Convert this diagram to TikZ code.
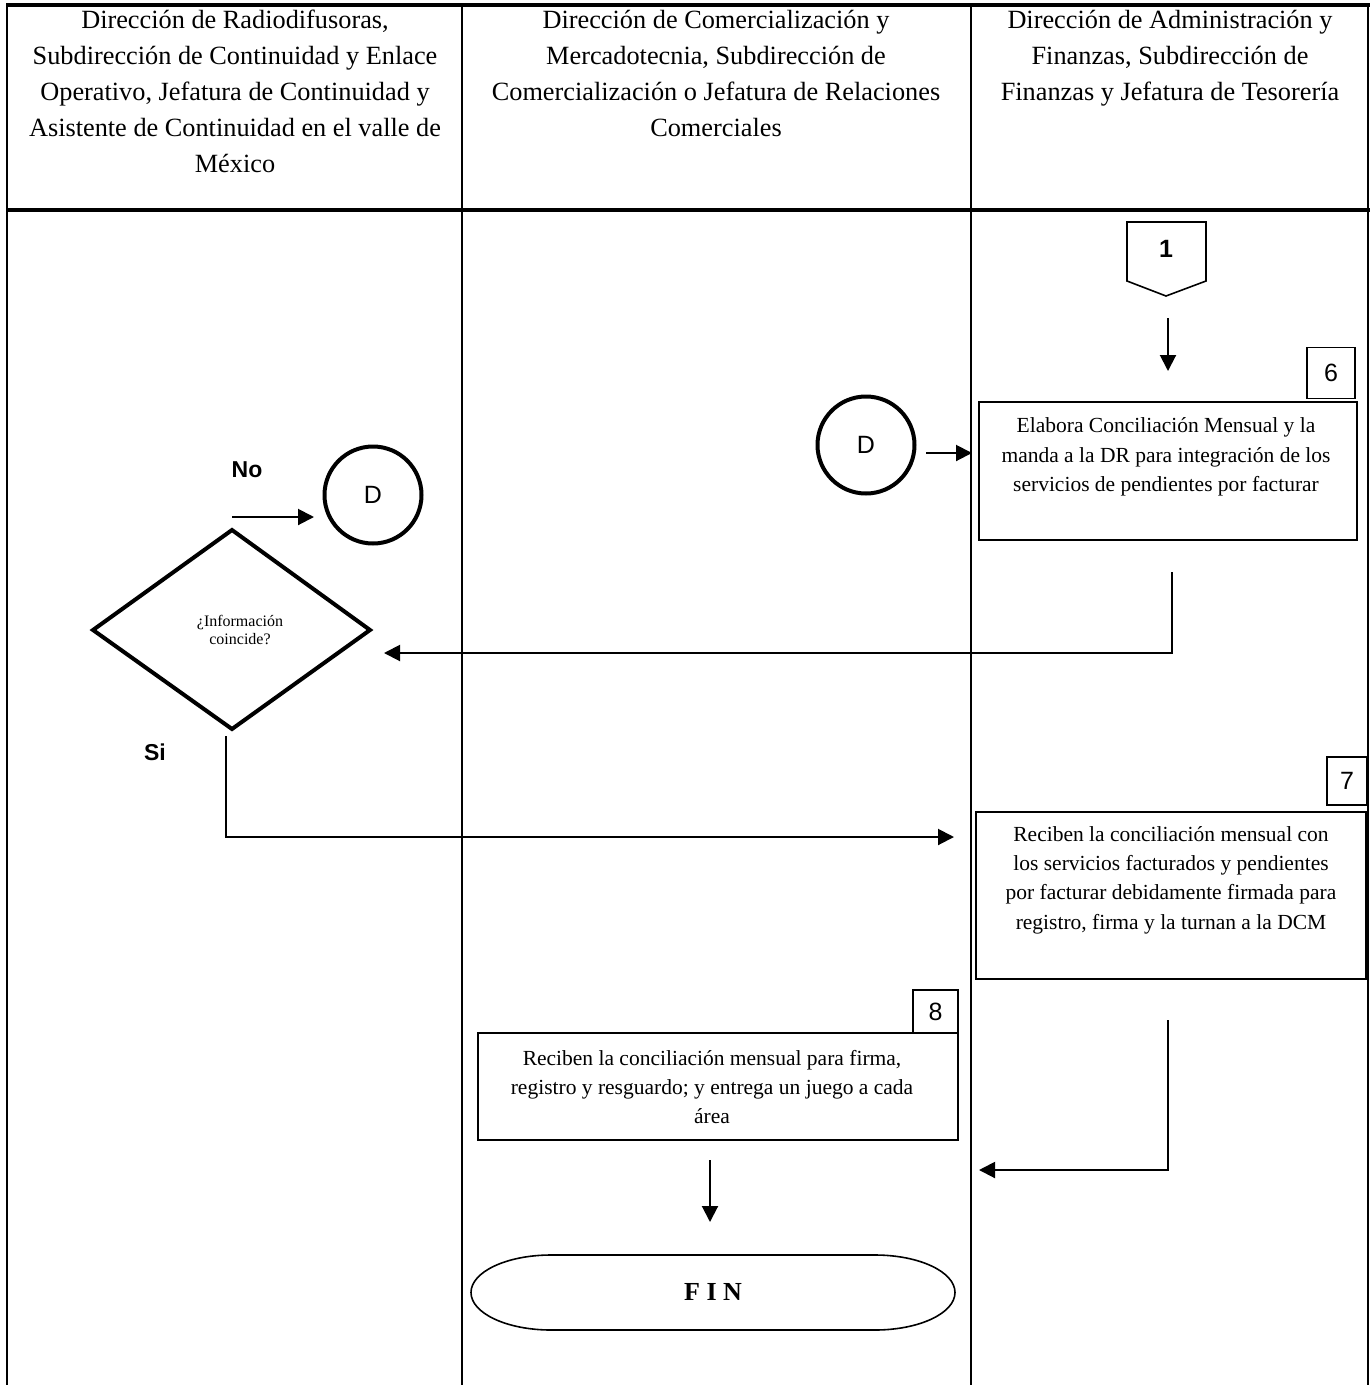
\documentclass[tikz,border=0pt]{standalone}
\usepackage{fontspec}
\setmainfont{Liberation Serif}
\newfontfamily\arialf{Liberation Sans}
\usetikzlibrary{arrows.meta,shapes.geometric}
\begin{document}
\begin{tikzpicture}[x=1pt,y=-1pt,
  hdr/.style={anchor=north,align=center,inner sep=0,font=\fontsize{26.3}{36}\selectfont},
  btext/.style={align=center,inner sep=0,font=\fontsize{21.5}{29.3}\selectfont},
  procbox/.style={draw,line width=2,inner sep=0},
  numbox/.style={draw,line width=1.6,inner sep=0,font=\arialf\fontsize{25}{28}\selectfont},
  conn/.style={draw,circle,line width=4,inner sep=0,minimum size=97,font=\arialf\fontsize{25}{28}\selectfont},
  lbl/.style={inner sep=0,font=\arialf\bfseries\fontsize{23}{26}\selectfont},
  arr/.style={line width=2,-{Triangle[length=16,width=16]}},
  lane/.style={line width=2.5},
  thick lane/.style={line width=4}]
\useasboundingbox (0,0) rectangle (1372,1385);
% lanes
\draw[thick lane] (6,5) -- (1370,5);
\draw[thick lane] (6,210) -- (1370,210);
\draw[lane] (7,4) -- (7,1385);
\draw[lane] (1368,4) -- (1368,1385);
\draw[lane] (462,4) -- (462,1385);
\draw[lane] (971,4) -- (971,1385);
% headers
\node[hdr] (h1) at (235,10) {Dirección de Radiodifusoras,\\Subdirección de Continuidad y Enlace\\Operativo, Jefatura de Continuidad y\\Asistente de Continuidad en el valle de\\México};
\node[hdr] (h2) at (716,10) {Dirección de Comercialización y\\Mercadotecnia, Subdirección de\\Comercialización o Jefatura de Relaciones\\Comerciales};
\node[hdr] (h3) at (1170,10) {Dirección de Administración y\\Finanzas, Subdirección de\\Finanzas y Jefatura de Tesorería};
% off-page connector 1
\draw[line width=1.6] (1127,222) -- (1206,222) -- (1206,281) -- (1166,296) -- (1127,281) -- cycle;
\node[lbl,font=\arialf\bfseries\fontsize{25}{28}\selectfont] (p1) at (1166,249) {1};
\coordinate (p1out) at (1168,318);
\coordinate (a6in) at (1168,371);
\draw[arr] (p1out) -- (a6in);
% box 6 and process A
\node[numbox,minimum width=48,minimum height=51] (n6) at (1331,373) {6};
\node[procbox,minimum width=378,minimum height=138] (pa) at (1168,471) {};
\node[btext] (ta) at (1166,457) {Elabora Conciliación Mensual y la\\manda a la DR para integración de los\\servicios de pendientes por facturar};
% connector D right
\node[conn] (dr) at (866,445) {D};
\coordinate (drout) at (926,453);
\coordinate (drin) at (972,453);
\draw[arr] (drout) -- (drin);
% connector D left
\node[conn] (dl) at (373,495) {D};
\node[lbl] (no) at (247,470) {No};
\coordinate (nos) at (232,517);
\coordinate (noe) at (314,517);
\draw[arr] (nos) -- (noe);
% decision
\draw[line width=4] (93,630) -- (232,530) -- (370,630) -- (232,729) -- cycle;
\node[align=center,inner sep=0,font=\fontsize{16}{18.5}\selectfont] (dec) at (240,630) {¿Información\\coincide?};
\coordinate (decin) at (384,653);
\coordinate (pas) at (1172,572);
\draw[arr] (pas) |- (decin);
\node[lbl] (si) at (155,752) {Si};
\coordinate (decout) at (226,736);
\coordinate (pbin) at (954,837);
\draw[arr] (decout) |- (pbin);
% box 7 and process B
\node[numbox,minimum width=40,minimum height=48] (n7) at (1347,781) {7};
\node[procbox,minimum width=390,minimum height=167] (pb) at (1171,895) {};
\node[btext] (tb) at (1171,880) {Reciben la conciliación mensual con\\los servicios facturados y pendientes\\por facturar debidamente firmada para\\registro, firma y la turnan a la DCM};
\coordinate (pbout) at (1168,1020);
\coordinate (pcin) at (979,1170);
\draw[arr] (pbout) |- (pcin);
% box 8 and process C
\node[numbox,minimum width=45,minimum height=43] (n8) at (935.5,1011.5) {8};
\node[procbox,minimum width=480,minimum height=107] (pc) at (718,1086.5) {};
\node[btext] (tc) at (712,1087) {Reciben la conciliación mensual para firma,\\registro y resguardo; y entrega un juego a cada\\área};
\coordinate (pcout) at (710,1160);
\coordinate (finin) at (710,1222);
\draw[arr] (pcout) -- (finin);
% FIN terminal
\draw[line width=1.6] (551,1255) -- (875,1255) arc[start angle=-90,end angle=90,x radius=80,y radius=37.5] -- (551,1330) arc[start angle=90,end angle=270,x radius=80,y radius=37.5] -- cycle;
\node[inner sep=0,font=\bfseries\fontsize{26}{28}\selectfont] (fin) at (713,1292) {F I N};
\end{tikzpicture}
\end{document}
